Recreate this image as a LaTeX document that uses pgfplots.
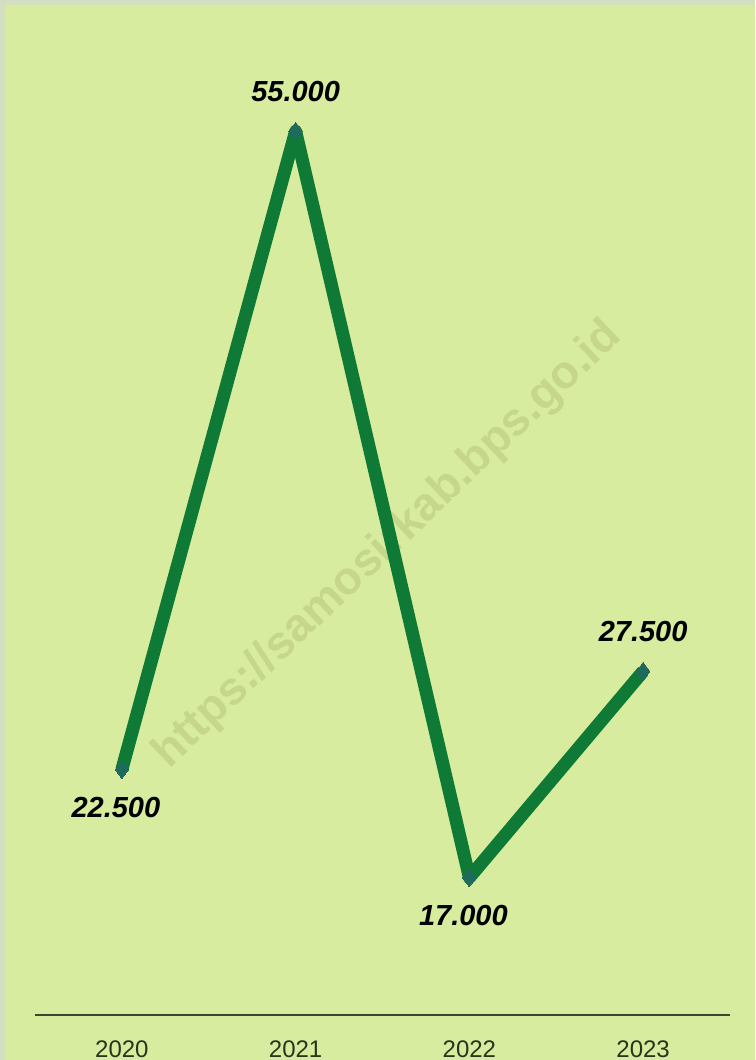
\documentclass[border=0pt]{standalone}
\usepackage{pgfplots}
\pgfplotsset{compat=1.18}
\usepackage{fontspec}
\setmainfont{Liberation Sans}
\definecolor{bgc}{RGB}{215,236,159}
\definecolor{linec}{RGB}{15,122,54}
\definecolor{markc}{RGB}{30,107,94}
\definecolor{wmc}{RGB}{198,214,138}
\definecolor{axc}{RGB}{58,72,44}
\definecolor{txtc}{RGB}{40,52,28}
\definecolor{edgec}{RGB}{212,222,192}
\begin{document}
\begin{tikzpicture}[x=1pt,y=1pt]
\path[use as bounding box] (0,0) rectangle (755,1060);
\clip (0,0) rectangle (755,1060);
\fill[bgc] (0,0) rectangle (755,1060);
\fill[edgec] (0,1055) rectangle (755,1060);
\fill[edgec] (0,0) rectangle (5,1060);
\node[wmc, rotate=43.5, font=\bfseries\fontsize{46}{50}\selectfont] at (388,515) {https://samosirkab.bps.go.id};
\begin{axis}[
  at={(35pt,45pt)}, anchor=south west,
  scale only axis, width=695pt, height=982pt,
  xmin=-0.5, xmax=3.5, ymin=10000, ymax=60000,
  axis x line*=bottom, axis y line=none,
  x axis line style={axc, line width=2pt},
  xtick={0,1,2,3}, xticklabels={2020,2021,2022,2023},
  major tick length=0pt, ytick=\empty,
  xticklabel style={anchor=north, inner sep=0pt, yshift=-26pt, text=txtc, font=\fontsize{24}{26}\selectfont},
  clip=false,
]
\addplot[linec, line width=13pt, line join=round, mark=diamond*, mark size=9pt,
  mark options={fill=markc, draw=markc, line width=0pt}]
  coordinates {(0,22500) (1,55000) (2,17000) (3,27500)};
\addplot[draw=none, mark=none, nodes near coords, point meta=explicit symbolic,
  nodes near coords style={anchor=south, inner sep=0pt, yshift=29pt, text=black, font=\bfseries\itshape\fontsize{29}{31}\selectfont}]
  coordinates {(1,55000) [55.000] (3,27500) [27.500]};
\addplot[draw=none, mark=none, nodes near coords, point meta=explicit symbolic,
  nodes near coords style={anchor=north, inner sep=0pt, yshift=-28pt, xshift=-6pt, text=black, font=\bfseries\itshape\fontsize{29}{31}\selectfont}]
  coordinates {(0,22500) [22.500] (2,17000) [17.000]};
\end{axis}
\end{tikzpicture}
\end{document}
